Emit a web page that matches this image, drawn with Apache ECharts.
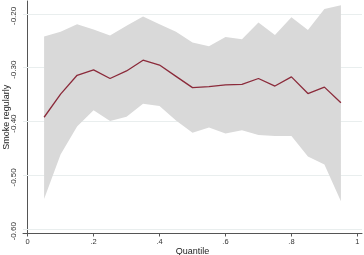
<!DOCTYPE html>
<html>
<head>
<meta charset="utf-8">
<script src="https://cdn.jsdelivr.net/npm/echarts@6/dist/echarts.min.js"></script>
<style>
  html, body { margin: 0; padding: 0; background: #fff; }
  #chart { width: 364px; height: 255px; }
</style>
</head>
<body>
<div id="chart"></div>
<script>
// quantiles and estimates
var quantiles = [0.05, 0.10, 0.15, 0.20, 0.25, 0.30, 0.35, 0.40, 0.45, 0.50,
                 0.55, 0.60, 0.65, 0.70, 0.75, 0.80, 0.85, 0.90, 0.95];
var estimate = [-0.392, -0.349, -0.314, -0.304, -0.320, -0.306, -0.286, -0.295, -0.316, -0.337,
                -0.335, -0.332, -0.331, -0.320, -0.334, -0.317, -0.348, -0.336, -0.365];
var upperCI = [-0.242, -0.233, -0.219, -0.229, -0.240, -0.222, -0.205, -0.219, -0.233, -0.253,
               -0.260, -0.243, -0.247, -0.216, -0.239, -0.206, -0.230, -0.191, -0.184];
var lowerCI = [-0.544, -0.461, -0.409, -0.379, -0.399, -0.391, -0.367, -0.371, -0.398, -0.421,
               -0.411, -0.422, -0.416, -0.425, -0.427, -0.427, -0.465, -0.480, -0.548];
var xTicks = [0, 0.2, 0.4, 0.6, 0.8, 1];
var yTicks = [-0.6, -0.5, -0.4, -0.3, -0.2];

var chart = echarts.init(document.getElementById('chart'));

var bandRows = [], estPts = [];
for (var i = 0; i < quantiles.length; i++) {
    bandRows.push([quantiles[i], lowerCI[i], upperCI[i]]);
    estPts.push([quantiles[i], estimate[i]]);
}

// whole CI band as one polygon, drawn once from the first item
function renderBand(params, api) {
    if (params.dataIndex !== 0) return;
    var top = [], bottom = [];
    for (var k = 0; k < bandRows.length; k++) {
        top.push(api.coord([bandRows[k][0], bandRows[k][2]]));
        bottom.unshift(api.coord([bandRows[k][0], bandRows[k][1]]));
    }
    return {
        type: 'polygon',
        shape: { points: top.concat(bottom) },
        style: { fill: '#d9d9d9', stroke: null }
    };
}

var axisCol = '#555555';
var font = 'Liberation Sans, Arial, sans-serif';

var option = {
    animation: false,
    grid: { left: 23, right: 2, top: 1, bottom: 21.5, outerBoundsMode: 'none' },
    xAxis: {
        type: 'value',
        min: -0.014, max: 1.014,
        name: 'Quantile',
        nameLocation: 'middle',
        nameGap: 14,
        nameMoveOverlap: false,
        nameTextStyle: { color: '#222', fontSize: 9, fontFamily: font },
        axisLine: { show: true, lineStyle: { color: axisCol, width: 1 } },
        axisTick: { show: true, length: 3, customValues: xTicks, lineStyle: { color: axisCol } },
        axisLabel: {
            customValues: xTicks, margin: 4, color: '#333', fontSize: 7.5, fontFamily: font,
            formatter: function (v) { return v === 0 ? '0' : v === 1 ? '1' : v.toFixed(1).replace(/^0/, ''); }
        },
        splitLine: { show: false }
    },
    yAxis: {
        type: 'value',
        min: -0.608, max: -0.176,
        name: 'Smoke regularly',
        nameLocation: 'middle',
        nameGap: 12,
        nameMoveOverlap: false,
        nameTextStyle: { color: '#222', fontSize: 9, fontFamily: font },
        axisLine: { show: true, lineStyle: { color: axisCol, width: 1 } },
        axisTick: { show: true, length: 2.5, customValues: yTicks, lineStyle: { color: axisCol } },
        axisLabel: {
            customValues: yTicks, rotate: 90, margin: 5, color: '#333', fontSize: 8, fontFamily: font,
            align: 'center', verticalAlign: 'bottom', padding: [0, 4, 0, 0],
            formatter: function (v) { return v.toFixed(2); }
        },
        splitLine: { show: false }
    },
    series: [
        {
            type: 'custom', data: bandRows, renderItem: renderBand, silent: true, z: 2,
            encode: { x: 0, y: [1, 2] },
            markLine: {
                silent: true, symbol: 'none', label: { show: false }, z: 1,
                lineStyle: { color: '#e9eeee', width: 1, type: 'solid' },
                data: yTicks.map(function (t) { return { yAxis: t }; })
            }
        },
        {
            type: 'line', data: estPts, symbol: 'none', z: 3,
            lineStyle: { color: '#8b2a3a', width: 1.3 }
        }
    ]
};
chart.setOption(option);
</script>
</body>
</html>
